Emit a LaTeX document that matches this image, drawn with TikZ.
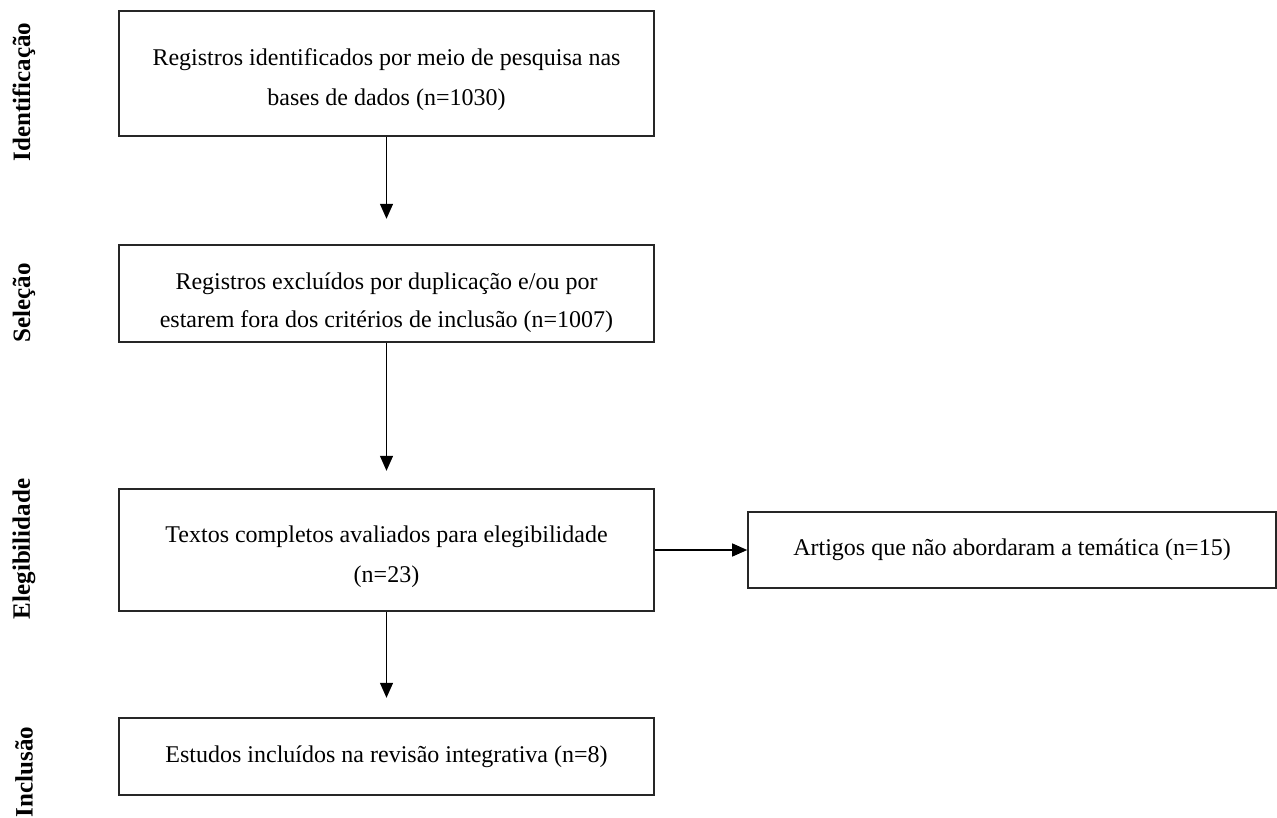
\documentclass[tikz,border=0pt]{standalone}
\usepackage{fontspec}
\setmainfont{Liberation Serif}
\usetikzlibrary{arrows.meta}
\newcommand{\lowered}[2]{\raisebox{#1}[\height][\depth]{\begin{tabular}{@{}c@{}}#2\end{tabular}}}
\begin{document}
\begin{tikzpicture}[x=1pt,y=-1pt,
  box/.style={draw=black!85, line width=1.6pt, inner sep=0pt, align=center,
    minimum width=535pt, font=\fontsize{24}{40}\selectfont},
  lab/.style={rotate=90, inner sep=0pt, font=\fontsize{25}{30}\selectfont\bfseries},
  arr/.style={line width=1.3pt, draw=black, -{Triangle[width=13pt,length=15pt]}}]
\useasboundingbox (0,0) rectangle (1277,818);
\fill[white] (0,0) rectangle (1277,818);

\node[box, minimum height=125pt] (b1) at (386.5,73.5)
  {\lowered{-4pt}{Registros identificados por meio de pesquisa nas\\bases de dados (n=1030)}};
\node[box, minimum height=97pt] (b2) at (386.5,293.5)
  {\lowered{-7pt}{Registros excluídos por duplicação e/ou por\\[-2pt]estarem fora dos critérios de inclusão (n=1007)}};
\node[box, minimum height=122pt] (b3) at (386.5,550)
  {\lowered{-4pt}{Textos completos avaliados para elegibilidade\\(n=23)}};
\node[box, minimum height=77pt] (b4) at (386.5,756.5)
  {Estudos incluídos na revisão integrativa (n=8)};
\node[box, minimum width=528pt, minimum height=76pt] (r) at (1012,550)
  {Artigos que não abordaram a temática (n=15)};

\node[lab] (l1) at (24,92) {Identificação};
\node[lab] (l2) at (24,303) {Seleção};
\node[lab] (l3) at (24,549) {Elegibilidade};
\node[lab] (l4) at (24,772) {Inclusão};

\coordinate (e1) at ([yshift=-82pt]b1.south);
\coordinate (e2) at ([yshift=-128pt]b2.south);
\coordinate (e3) at ([yshift=-86pt]b3.south);
\draw[arr] (b1.south) -- (e1);
\draw[arr] (b2.south) -- (e2);
\draw[arr] (b3.south) -- (e3);
\draw[arr] (b3.east) -- (r.west);
\end{tikzpicture}
\end{document}
